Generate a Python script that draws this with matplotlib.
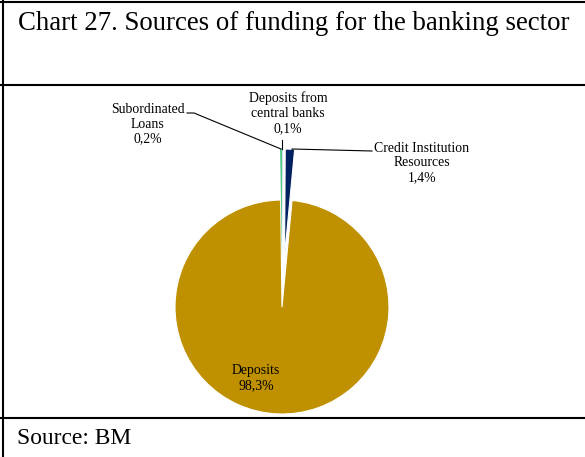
import matplotlib
matplotlib.use("Agg")
import matplotlib.pyplot as plt
import numpy as np

# Data
labels = ["Deposits from\ncentral banks", "Credit Institution\nResources", "Deposits", "Subordinated\nLoans"]
values = [0.1, 1.4, 98.3, 0.2]
pct_labels = ["0,1%", "1,4%", "98,3%", "0,2%"]
colors = ["#B4C7E7", "#002060", "#BF9000", "#00B050"]
explode_px = [51, 51, 0, 51]

title = "Chart 27. Sources of funding for the banking sector"
source = "Source: BM"

W, H = 585, 457
fig = plt.figure(figsize=(W / 100, H / 100), dpi=100)
ax = fig.add_axes([0, 0, 1, 1])

serif = ["Liberation Serif", "DejaVu Serif"]

def Y(ypx):
    return H - ypx

cx, cy, R = 282, Y(307), 107
wedges, _ = ax.pie(values, colors=colors, startangle=90, counterclock=False,
                   explode=explode_px, center=(cx, cy), radius=R,
                   wedgeprops=dict(linewidth=0.8, edgecolor="white"), frame=True)
ax.set_xlim(0, W)
ax.set_ylim(0, H)
ax.set_aspect("equal")
ax.axis("off")
for i in (0, 3):
    wedges[i].set_linewidth(0)

def outer_point(w):
    th = np.deg2rad(0.5 * (w.theta1 + w.theta2))
    return w.center[0] + w.r * np.cos(th), w.center[1] + w.r * np.sin(th)

fs = 9.9
ls = 1.18
# Subordinated loans label
ax.text(148, Y(124), labels[3] + "\n" + pct_labels[3], ha="center", va="center",
        fontsize=fs, family=serif, linespacing=ls)
px, py = outer_point(wedges[3])
ax.plot([187, 194, px], [Y(113), Y(113), py], color="black", lw=0.8)

# Deposits from central banks
ax.text(288, Y(113), labels[0] + "\n" + pct_labels[0], ha="center", va="center",
        fontsize=fs, family=serif, linespacing=ls)
px, py = outer_point(wedges[0])
ax.plot([px, px], [Y(140), py], color="black", lw=0.8)

# Credit institution resources
ax.text(422, Y(163), labels[1] + "\n" + pct_labels[1], ha="center", va="center",
        fontsize=fs, family=serif, linespacing=ls)
px, py = outer_point(wedges[1])
ax.plot([372, px + 2, px + 2], [Y(151), Y(149), py], color="black", lw=0.8)

# Deposits
ax.text(256, Y(378), labels[2] + "\n" + pct_labels[2], ha="center", va="center",
        fontsize=fs, family=serif, linespacing=ls)

# Title and source
ax.text(18, Y(23), title, ha="left", va="center", fontsize=19.3, family=serif)
ax.text(17, Y(439), source, ha="left", va="center", fontsize=16.9, family=serif)

# Frame lines
lw = 1.5
ax.plot([0, W], [Y(2), Y(2)], color="black", lw=lw, solid_capstyle="butt")
ax.plot([0, W], [Y(85), Y(85)], color="black", lw=lw, solid_capstyle="butt")
ax.plot([0, W], [Y(418), Y(418)], color="black", lw=lw, solid_capstyle="butt")
ax.plot([2.5, 2.5], [0, H], color="black", lw=lw, solid_capstyle="butt")

fig.savefig("out.png", dpi=100)
